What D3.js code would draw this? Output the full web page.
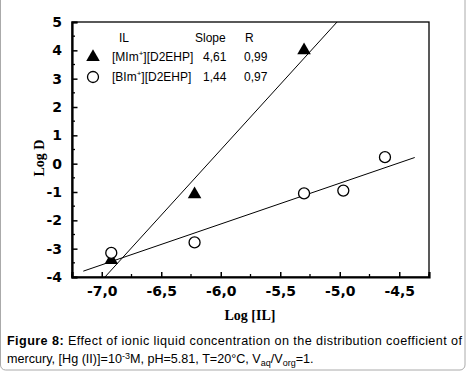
<!DOCTYPE html>
<html>
<head>
<meta charset="utf-8">
<script src="https://cdn.jsdelivr.net/npm/d3@7"></script>
<style>
  body { margin: 0; background: #fff; }
  .tick-label { font-family: "DejaVu Sans", sans-serif; font-weight: bold; font-size: 14px; }
  .axis-title { font-family: "Liberation Serif", serif; font-weight: bold; font-size: 14px; }
  .legend { font-family: "Liberation Sans", Arial, sans-serif; font-size: 12px; }
  .caption { font-family: "Liberation Sans", Arial, sans-serif; font-size: 12.6px; }
</style>
</head>
<body>
<script>
const width = 466,
  height = 374;

// data
const xMIm = [-6.92, -6.22, -5.3];
const yMIm = [-3.4, -1.08, 4.0];
const xBIm = [-6.92, -6.22, -5.3, -4.97, -4.62];
const yBIm = [-3.15, -2.78, -1.05, -0.95, 0.23];

// linear fits: slope, intercept, x range of the drawn line
const fitSlopes = [4.615, 1.44];
const fitIntercepts = [28.18, 6.51];
const fitRanges = [[-7.25, -4.25], [-7.155, -4.37]];

const legendNames = ["[MIm", "[BIm"];
const legendSlopes = ["4,61", "1,44"];
const legendR = ["0,99", "0,97"];

const xTicks = [-7.0, -6.5, -6.0, -5.5, -5.0, -4.5];
const yTicks = [-4, -3, -2, -1, 0, 1, 2, 3, 4, 5];

const margin = { left: 72, top: 22, right: 37, bottom: 97 };
const pw = width - margin.left - margin.right,
  ph = height - margin.top - margin.bottom;

const x = d3.scaleLinear().domain([-7.25, -4.25]).range([0, pw]);
const y = d3.scaleLinear().domain([-4, 5]).range([ph, 0]);

const svg = d3
  .select("body")
  .append("svg")
  .attr("width", width)
  .attr("height", height);

// light rounded frame around the figure
svg
  .append("rect")
  .attr("x", 0.5)
  .attr("y", -8)
  .attr("width", width - 1.5)
  .attr("height", 378)
  .attr("rx", 5)
  .attr("fill", "none")
  .attr("stroke", "#aaa")
  .attr("stroke-width", 1);

const g = svg
  .append("g")
  .attr("transform", `translate(${margin.left},${margin.top})`);

g.append("clipPath")
  .attr("id", "clip")
  .append("rect")
  .attr("width", pw)
  .attr("height", ph);

// frame: top and right thin
g.append("rect")
  .attr("width", pw)
  .attr("height", ph)
  .attr("fill", "none")
  .attr("stroke", "#000")
  .attr("stroke-width", 1.3);

// axes with inward ticks
const xAxis = d3
  .axisBottom(x)
  .tickValues(xTicks)
  .tickSize(-5)
  .tickPadding(9)
  .tickFormat((d) => d3.format(".1f")(d).replace(".", ",").replace("−", "-"));
const gx = g.append("g").attr("transform", `translate(0,${ph})`).call(xAxis);

const yAxis = d3
  .axisLeft(y)
  .tickValues(yTicks)
  .tickSize(-5.5)
  .tickPadding(10)
  .tickFormat((d) => String(d));
const gy = g.append("g").call(yAxis);

[gx, gy].forEach((a) => {
  a.select(".domain").attr("stroke-width", 2.2);
  a.selectAll(".tick line").attr("stroke-width", 1.5);
  a.selectAll(".tick text")
    .attr("class", "tick-label")
    .attr("fill", "#000")
    .attr("font-size", null)
    .attr("font-family", null);
  a.attr("font-size", null).attr("font-family", null);
});

// minor ticks
const xMinor = d3.range(-7.25, -4.24, 0.25).filter((v) => !xTicks.some((t) => Math.abs(t - v) < 1e-6));
g.selectAll(".xminor")
  .data(xMinor)
  .join("line")
  .attr("x1", (d) => x(d))
  .attr("x2", (d) => x(d))
  .attr("y1", ph)
  .attr("y2", ph - 3)
  .attr("stroke", "#000")
  .attr("stroke-width", 1.3);

const yMinor = d3.range(-3.5, 5, 1);
g.selectAll(".yminor")
  .data(yMinor)
  .join("line")
  .attr("x1", 0)
  .attr("x2", 3)
  .attr("y1", (d) => y(d))
  .attr("y2", (d) => y(d))
  .attr("stroke", "#000")
  .attr("stroke-width", 1.3);

// fit lines
const line = d3
  .line()
  .x((d) => x(d[0]))
  .y((d) => y(d[1]));
fitSlopes.forEach((s, i) => {
  const pts = fitRanges[i].map((xv) => [xv, s * xv + fitIntercepts[i]]);
  g.append("path")
    .datum(pts)
    .attr("clip-path", "url(#clip)")
    .attr("fill", "none")
    .attr("stroke", "#000")
    .attr("stroke-width", 1)
    .attr("d", line);
});

// markers
const tri = d3.symbol().type(d3.symbolTriangle).size(80);
g.selectAll(".tri")
  .data(d3.zip(xMIm, yMIm))
  .join("path")
  .attr("transform", (d) => `translate(${x(d[0])},${y(d[1])})`)
  .attr("d", tri)
  .attr("fill", "#000");

g.selectAll(".circ")
  .data(d3.zip(xBIm, yBIm))
  .join("circle")
  .attr("cx", (d) => x(d[0]))
  .attr("cy", (d) => y(d[1]))
  .attr("r", 5.5)
  .attr("fill", "#fff")
  .attr("stroke", "#000")
  .attr("stroke-width", 1.3);

// legend
const leg = svg.append("g").attr("class", "legend");
leg.append("text").attr("x", 119).attr("y", 42).text("IL");
leg.append("text").attr("x", 195).attr("y", 42).text("Slope");
leg.append("text").attr("x", 245).attr("y", 42).text("R");

const rowY = [61, 81];
legendNames.forEach((name, i) => {
  if (i === 0) {
    leg.append("path")
      .attr("transform", `translate(93,${rowY[i] - 4})`)
      .attr("d", tri)
      .attr("fill", "#000");
  } else {
    leg.append("circle")
      .attr("cx", 93)
      .attr("cy", rowY[i] - 4)
      .attr("r", 5.5)
      .attr("fill", "#fff")
      .attr("stroke", "#000")
      .attr("stroke-width", 1.3);
  }
  const t = leg.append("text").attr("x", 112).attr("y", rowY[i]);
  t.append("tspan").text(name);
  t.append("tspan").attr("dy", -5).attr("font-size", 8).text("+");
  t.append("tspan").attr("dy", 5).text("][D2EHP]");
  leg.append("text").attr("x", 203).attr("y", rowY[i]).text(legendSlopes[i]);
  leg.append("text").attr("x", 244).attr("y", rowY[i]).text(legendR[i]);
});

// axis titles
svg
  .append("text")
  .attr("class", "axis-title")
  .attr("text-anchor", "middle")
  .attr("transform", "translate(44,158) rotate(-90)")
  .text("Log D");
svg
  .append("text")
  .attr("class", "axis-title")
  .attr("text-anchor", "middle")
  .attr("x", 250)
  .attr("y", 320)
  .text("Log [IL]");

// caption
const c1 = svg
  .append("text")
  .attr("class", "caption")
  .attr("x", 7)
  .attr("y", 345)
  .attr("textLength", 455)
  .attr("lengthAdjust", "spacing");
c1.append("tspan").attr("font-weight", "bold").text("Figure 8:");
c1.append("tspan").text(" Effect of ionic liquid concentration on the distribution coefficient of");

const c2 = svg.append("text").attr("class", "caption").attr("x", 7).attr("y", 363);
c2.append("tspan").text("mercury, [Hg (II)]=10");
c2.append("tspan").attr("dy", -4).attr("font-size", 9).text("-3");
c2.append("tspan").attr("dy", 4).text("M, pH=5.81, T=20°C, V");
c2.append("tspan").attr("dy", 3).attr("font-size", 9).text("aq");
c2.append("tspan").attr("dy", -3).text("/V");
c2.append("tspan").attr("dy", 3).attr("font-size", 9).text("org");
c2.append("tspan").attr("dy", -3).text("=1.");
</script>
</body>
</html>
